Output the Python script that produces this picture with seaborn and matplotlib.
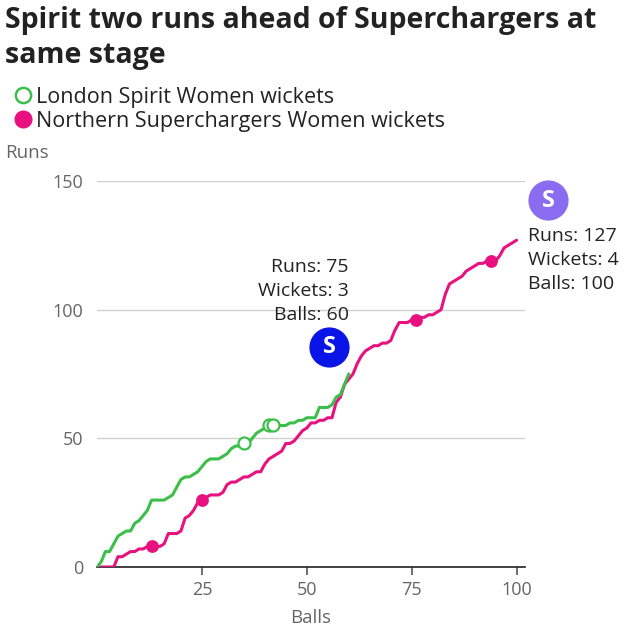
import matplotlib
matplotlib.use("Agg")
import matplotlib.pyplot as plt
import seaborn as sns
import pandas as pd
from matplotlib.lines import Line2D

sns.set_theme(style="white")
plt.rcParams['font.family'] = ['Open Sans', 'DejaVu Sans']

# ---- data ----
spirit_runs = [0, 2, 6, 6, 9, 12, 13, 14, 14, 17, 18, 20, 22, 26, 26, 26, 26, 27, 28, 31,
               34, 35, 35, 36, 37, 39, 41, 42, 42, 42, 43, 44, 46, 47, 47, 48, 48, 50, 52, 53,
               54, 55, 55, 55, 55, 55, 56, 56, 57, 57, 58, 58, 58, 62, 62, 62, 63, 66, 67, 71, 75]
super_runs = [0, 0, 0, 0, 0, 4, 4, 5, 6, 6, 7, 7, 8, 8, 8, 8, 9, 13, 13, 13,
              14, 19, 20, 22, 25, 26, 27, 28, 28, 28, 29, 32, 33, 33, 34, 35, 35, 36, 37, 37,
              40, 42, 43, 44, 45, 48, 48, 49, 51, 53, 54, 56, 56, 57, 57, 58, 58, 64, 66, 71,
              73, 75, 79, 82, 84, 85, 86, 86, 87, 87, 88, 92, 95, 95, 95, 96, 96, 97, 97, 98,
              98, 99, 100, 106, 110, 111, 112, 113, 115, 116, 117, 118, 118, 119, 119, 119, 121, 124, 125, 126, 127]
spirit_wkt_balls = [35, 41, 42]
super_wkt_balls = [13, 25, 76, 94]

title = "Spirit two runs ahead of Superchargers at\nsame stage"
spirit_name = "London Spirit Women wickets"
super_name = "Northern Superchargers Women wickets"
x_ticks = [25, 50, 75, 100]
y_ticks = [0, 50, 100, 150]

GREEN = "#3cbf4a"
PINK = "#e8117f"
BLUE = "#0a14e6"
PURPLE = "#8a6cf0"
GREY = "#666666"

spirit_df = pd.DataFrame({"ball": range(len(spirit_runs)), "runs": spirit_runs})
super_df = pd.DataFrame({"ball": range(len(super_runs)), "runs": super_runs})
spirit_w = spirit_df[spirit_df.ball.isin(spirit_wkt_balls)]
super_w = super_df[super_df.ball.isin(super_wkt_balls)]

fig = plt.figure(figsize=(6.4, 6.4), dpi=100)
ax = fig.add_axes([97/640, 1-567/640, (525-97)/640, (567-181)/640])

sns.lineplot(data=super_df, x="ball", y="runs", ax=ax, color=PINK, lw=2.2, zorder=3)
sns.lineplot(data=spirit_df, x="ball", y="runs", ax=ax, color=GREEN, lw=2.2, zorder=4)
sns.scatterplot(data=super_w, x="ball", y="runs", ax=ax, color=PINK, s=85,
                edgecolor=PINK, linewidth=0, zorder=5)
sns.scatterplot(data=spirit_w, x="ball", y="runs", ax=ax, color="white", s=75,
                edgecolor=GREEN, linewidth=1.6, zorder=6)

ax.set_xlim(0, 102)
ax.set_ylim(0, 150)
ax.set_xticks(x_ticks)
ax.set_yticks(y_ticks)
ax.set_xticklabels([str(t) for t in x_ticks], fontsize=13, color=GREY)
ax.set_yticklabels([str(t) for t in y_ticks], fontsize=13, color=GREY)
ax.yaxis.grid(True, color="#d0d0d0", lw=1)
ax.xaxis.grid(False)
for s in ["top", "right", "left"]:
    ax.spines[s].set_visible(False)
ax.spines["bottom"].set_color("#222222")
ax.spines["bottom"].set_linewidth(1.2)
ax.tick_params(axis="x", length=6, width=1.2, color="#555555", pad=4, bottom=True)
ax.tick_params(axis="y", length=0, pad=10)
ax.set_xlabel("Balls", fontsize=13.5, color=GREY, labelpad=7)
ax.set_ylabel("")

# end-of-innings annotations
ax.text(60, 120, "Runs: 75\nWickets: 3\nBalls: 60", ha="right", va="top",
        fontsize=14, color="#222222", linespacing=1.42)
ax.scatter([55.3], [85.5], s=780, color=BLUE, zorder=7, clip_on=False)
ax.text(55.3, 85.3, "S", ha="center", va="center", color="white", fontsize=17,
        fontweight="bold", zorder=8)
ax.scatter([107.5], [142.5], s=780, color=PURPLE, zorder=7, clip_on=False)
ax.text(107.5, 142.3, "S", ha="center", va="center", color="white", fontsize=17,
        fontweight="bold", zorder=8)
ax.text(102.8, 132, "Runs: 127\nWickets: 4\nBalls: 100", ha="left", va="top",
        fontsize=14, color="#222222", linespacing=1.42)

# title, legend, y label
fig.text(0.008, 0.99, title, ha="left", va="top", fontsize=20.5, fontweight="bold",
         color="#222222", linespacing=1.25)
handles = [Line2D([], [], ls="none", marker="o", ms=11, mfc="white", mec=GREEN, mew=1.8),
           Line2D([], [], ls="none", marker="o", ms=12, mfc=PINK, mec=PINK)]
fig.legend(handles, [spirit_name, super_name], loc="upper left",
           bbox_to_anchor=(0.004, 0.878), frameon=False, fontsize=15.5,
           handletextpad=0.05, labelspacing=0.15, borderaxespad=0, handlelength=1.1,
           labelcolor="#222222")
fig.text(0.008, 0.775, "Runs", ha="left", va="top", fontsize=13.5, color=GREY)

fig.savefig("out.png", dpi=100)
